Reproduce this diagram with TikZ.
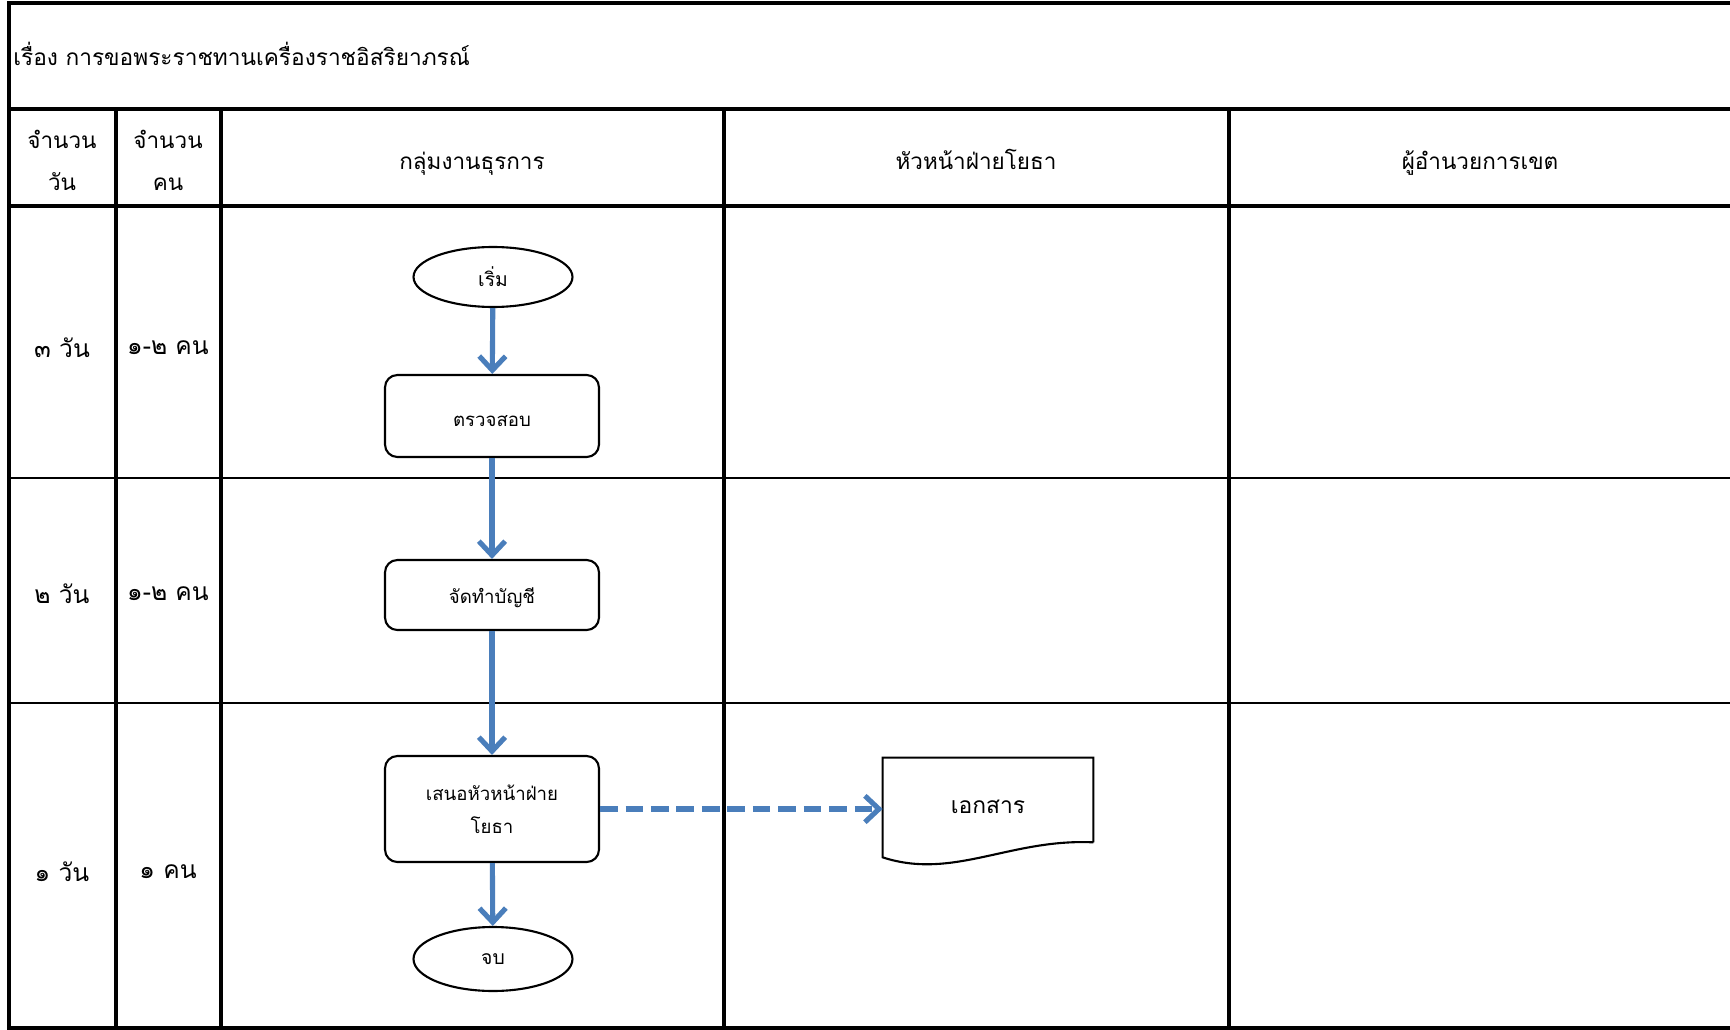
\documentclass[tikz,border=0pt]{standalone}
\usepackage{fontspec}
\setmainfont[Script=Thai]{Loma}
\usetikzlibrary{arrows.meta, positioning, shapes.geometric}
\definecolor{flowblue}{RGB}{74,126,187}

\begin{document}
\begin{tikzpicture}[
    x=0.02cm, y=-0.02cm,
    thickrule/.style={line width=1.9pt},
    thinrule/.style={line width=0.6pt},
    headtxt/.style={font=\fontsize{12.8}{24}\selectfont, align=center},
    lanetxt/.style={font=\fontsize{14}{17}\selectfont},
    terminal/.style={
        ellipse, draw, line width=1.2pt,
        minimum width=3.18cm, minimum height=1.2cm,
        font=\fontsize{11}{14}\selectfont
    },
    process/.style={
        draw, rounded corners=7pt, line width=1.2pt,
        minimum width=4.28cm,
        font=\fontsize{10.6}{19}\selectfont, align=center
    },
    flow/.style={draw=flowblue, line width=2.9pt,
        -{Straight Barb[length=8pt,width=15pt]}},
    dataflow/.style={flow, dash pattern=on 10pt off 4.5pt}
]
\useasboundingbox (0,0) rectangle (1730,1030);
\fill[white] (0,0) rectangle (1730,1030);

% Table frame and lanes
\draw[thickrule] (1730,3) -- (9,3) -- (9,1028) -- (1730,1028);
\foreach \y in {109,206}
    \draw[thickrule] (9,\y) -- (1730,\y);
\foreach \x in {116,221,724,1229}
    \draw[thickrule] (\x,109) -- (\x,1028);
\foreach \y in {478,703}
    \draw[thinrule] (9,\y) -- (1730,\y);

% Title
\node[font=\fontsize{12.9}{16}\selectfont, inner sep=0pt, anchor=west] (title) at (13,54)
    {เรื่อง การขอพระราชทานเครื่องราชอิสริยาภรณ์};

% Column headings
\foreach \n/\x/\t in {days/62/{จำนวน\\วัน}, staff/168/{จำนวน\\คน}}
    \node[headtxt] (h-\n) at (\x,160) {\t};
\foreach \n/\x/\t in {admin/472/{กลุ่มงานธุรการ}, works/976/{หัวหน้าฝ่ายโยธา},
    director/1480/{ผู้อำนวยการเขต}}
    \node[headtxt, anchor=base] (h-\n) at (\x,170) {\t};

% Days and staff for each step
\foreach \n/\y/\d/\p in {1/348/๓ วัน/๑-๒ คน, 2/594/๒ วัน/๑-๒ คน, 3/872/๑ วัน/๑ คน} {
    \node[lanetxt] (d\n) at (62,\y) {\d};
    \node[lanetxt] (p\n) at (168,\y) {\p};
}

% Flow steps
\node[terminal] (start) at (493,277) {เริ่ม};
\node[process, minimum height=1.64cm, text height=12pt] (check) at (492,416) {ตรวจสอบ};
\node[process, minimum height=1.4cm, text height=12pt] (list) at (492,595) {จัดทำบัญชี};
\node[process, minimum height=2.12cm] (propose) at (492,809) {เสนอหัวหน้าฝ่าย\\โยธา};
\node[terminal, minimum height=1.28cm] (stop) at (493,959) {จบ};

% Document
\node[minimum width=4.2cm, minimum height=1.68cm, text height=15pt,
      font=\fontsize{13}{16}\selectfont] (doc) at (988,800) {เอกสาร};
\draw[line width=1.2pt] (doc.south east) -- (doc.north east) -- (doc.north west)
    -- ([shift={(0,15)}]doc.south west)
    .. controls ([shift={(70,38)}]doc.south west) and ([shift={(-83,-4)}]doc.south east)
    .. (doc.south east);

% Connectors
\draw[flow] (start) -- (check);
\draw[flow] (check) -- (list);
\draw[flow] (list) -- (propose);
\draw[flow] (propose) -- (stop);
\draw[dataflow] (propose.east) -- (propose.east -| doc.west);
\end{tikzpicture}
\end{document}
